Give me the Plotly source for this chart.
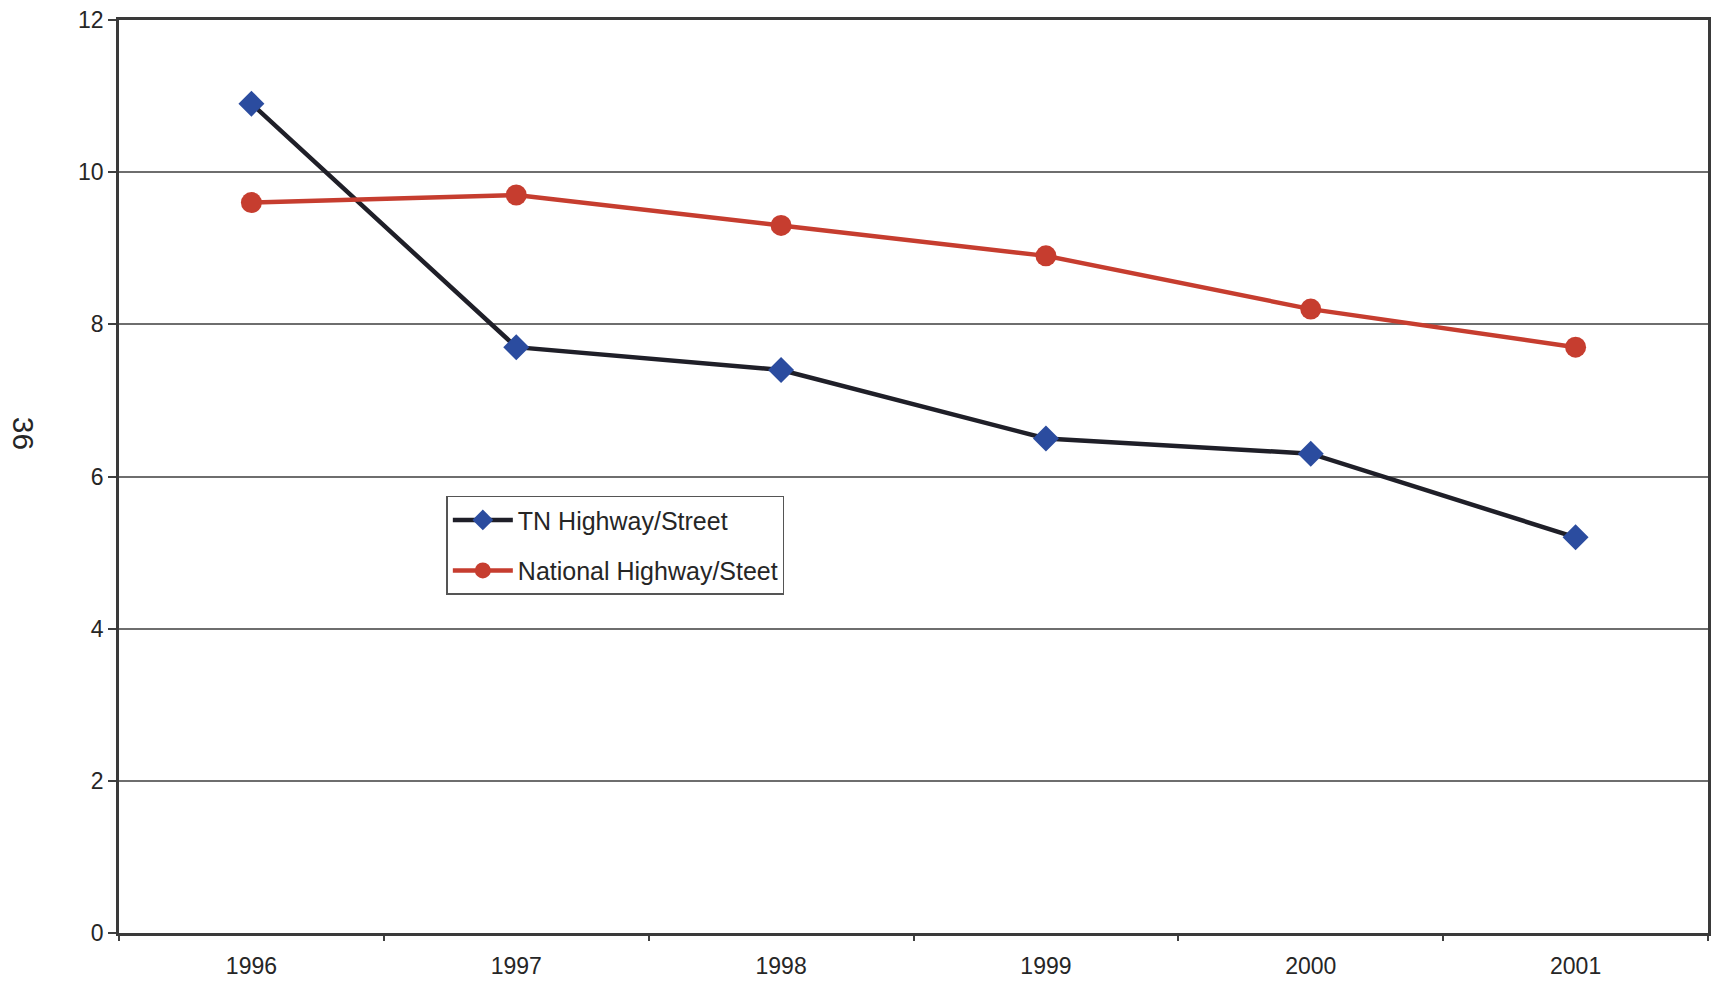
import plotly.graph_objects as go

# Accident rates by year: Tennessee vs. national highways/streets
years = ["1996", "1997", "1998", "1999", "2000", "2001"]
tn_rate = [10.9, 7.7, 7.4, 6.5, 6.3, 5.2]
national_rate = [9.6, 9.7, 9.3, 8.9, 8.2, 7.7]
y_ticks = [0, 2, 4, 6, 8, 10, 12]

FONT = "Liberation Sans, Arial, sans-serif"
TEXT = "#262626"

fig = go.Figure()

fig.add_trace(go.Scatter(
    x=years, y=tn_rate, name="TN Highway/Street",
    mode="lines+markers", legendgroup="tn",
    line=dict(color="#1f1f28", width=4.5),
    marker=dict(symbol="diamond", size=20, color="#2b4c9f",
                line=dict(width=0)),
))
fig.add_trace(go.Scatter(
    x=years, y=national_rate, name="National Highway/Steet",
    mode="lines+markers", legendgroup="nat",
    line=dict(color="#c63d2f", width=4.5),
    marker=dict(symbol="circle", size=21, color="#c63d2f",
                line=dict(width=0)),
))

fig.update_layout(
    width=1714, height=984,
    margin=dict(l=119, r=3, t=20, b=51),
    paper_bgcolor="white", plot_bgcolor="white",
    font=dict(family=FONT, color=TEXT),
    showlegend=True,
    legend=dict(
        x=0.206, y=0.479, xanchor="left", yanchor="top",
        bgcolor="white", bordercolor="#555555", borderwidth=1.5,
        font=dict(family=FONT, size=25, color=TEXT),
        itemwidth=60, tracegroupgap=15,
    ),
    xaxis=dict(
        type="category", range=[-0.5, 5.5],
        tickson="boundaries", ticks="outside", ticklen=5,
        tickcolor="#404040", tickwidth=1.5,
        showline=True, linecolor="#3a3a3a", linewidth=2.5, mirror=True,
        showgrid=False, zeroline=False,
        tickfont=dict(family=FONT, size=23, color=TEXT),
        ticklabelstandoff=11,
    ),
    yaxis=dict(
        range=[0, 12], tickvals=y_ticks,
        ticks="outside", ticklen=8, tickcolor="#404040", tickwidth=1.5,
        showline=True, linecolor="#3a3a3a", linewidth=2.5, mirror=True,
        showgrid=True, gridcolor="#6e6e6e", gridwidth=1.5,
        zeroline=False,
        tickfont=dict(family=FONT, size=23, color=TEXT),
    ),
)

# Page number printed sideways in the margin
fig.add_annotation(
    text="36", xref="paper", yref="paper",
    x=(24 - 119) / 1592, y=(933 - 433) / 913,
    xanchor="center", yanchor="middle",
    showarrow=False, textangle=90,
    font=dict(family=FONT, size=30, color=TEXT),
)

fig.write_html("out.html")
